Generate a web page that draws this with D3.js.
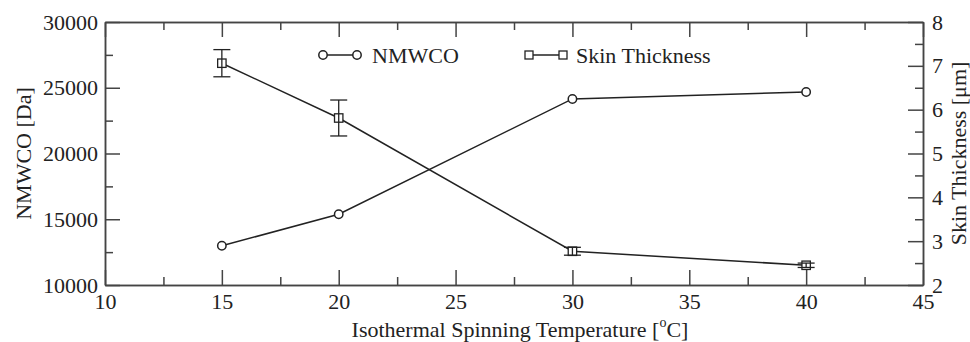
<!DOCTYPE html>
<html><head><meta charset="utf-8">
<script src="https://cdn.jsdelivr.net/npm/d3@7"></script>
<style>
body{margin:0;background:#fff;}
</style></head>
<body><svg id="c" width="970" height="342" style="font-family:'Liberation Serif','Times New Roman',Tinos,'DejaVu Serif',serif"></svg>
<script>
const temps = [15, 20, 30, 40];
const nmwco = [12980, 15380, 24150, 24680];
const skin = [7.06, 5.81, 2.77, 2.45];
const skinErr = [0.31, 0.41, 0.09, 0.05];
const xTicks = [10, 15, 20, 25, 30, 35, 40, 45];
const yLeftTicks = [10000, 15000, 20000, 25000, 30000];
const yRightTicks = [2, 3, 4, 5, 6, 7, 8];
const legendLabels = ["NMWCO", "Skin Thickness"];
const xTitle = "Isothermal Spinning Temperature [";
const yLeftTitle = "NMWCO [Da]";
const yRightTitle = "Skin Thickness [μm]";

const FONT = "'Liberation Serif','Times New Roman',Tinos,'DejaVu Serif',serif";
const L = 105, R = 923, T = 22, B = 285;
const svg = d3.select("#c");
const x = d3.scaleLinear().domain([10, 45]).range([L, R]);
const yl = d3.scaleLinear().domain([10000, 30000]).range([B, T]);
const yr = d3.scaleLinear().domain([2, 8]).range([B, T]);
const axisCol = "#444", lineCol = "#222";
const fs = 22;

function txt(sel){ return sel.style("font-family", FONT).style("font-size", fs + "px").style("fill", "#222"); }
function style(g){
  g.attr("font-family", null).attr("font-size", null);
  g.selectAll("path,line").attr("stroke", axisCol).attr("stroke-width", 1.5);
  txt(g.selectAll("text"));
}
const minorX = d3.range(12.5, 45, 5);
const minorL = d3.range(12500, 30000, 5000);
const minorR = d3.range(2.5, 8, 1);

// bottom
svg.append("g").attr("transform", `translate(0,${B})`)
  .call(d3.axisBottom(x).tickValues(xTicks).tickSize(-15).tickSizeOuter(0).tickPadding(8).tickFormat(d3.format("d"))).call(style);
svg.append("g").attr("transform", `translate(0,${B})`)
  .call(d3.axisBottom(x).tickValues(minorX).tickSize(-8).tickSizeOuter(0).tickFormat("")).call(style);
// top
svg.append("g").attr("transform", `translate(0,${T})`)
  .call(d3.axisTop(x).tickValues(xTicks).tickSize(-15).tickSizeOuter(0).tickFormat("")).call(style);
svg.append("g").attr("transform", `translate(0,${T})`)
  .call(d3.axisTop(x).tickValues(minorX).tickSize(-8).tickSizeOuter(0).tickFormat("")).call(style);
// left
svg.append("g").attr("transform", `translate(${L},0)`)
  .call(d3.axisLeft(yl).tickValues(yLeftTicks).tickSize(-15).tickSizeOuter(0).tickPadding(7).tickFormat(d3.format("d"))).call(style);
svg.append("g").attr("transform", `translate(${L},0)`)
  .call(d3.axisLeft(yl).tickValues(minorL).tickSize(-8).tickSizeOuter(0).tickFormat("")).call(style);
// right
svg.append("g").attr("transform", `translate(${R},0)`)
  .call(d3.axisRight(yr).tickValues(yRightTicks).tickSize(-15).tickSizeOuter(0).tickPadding(9).tickFormat(d3.format("d"))).call(style);
svg.append("g").attr("transform", `translate(${R},0)`)
  .call(d3.axisRight(yr).tickValues(minorR).tickSize(-8).tickSizeOuter(0).tickFormat("")).call(style);

// axis titles
const xt = txt(svg.append("text").attr("x", (L + R) / 2 + 6).attr("y", 337).attr("text-anchor", "middle"));
xt.append("tspan").text(xTitle);
xt.append("tspan").style("font-size", "14px").attr("dy", -10).text("o");
xt.append("tspan").attr("dy", 10).text("C]");
txt(svg.append("text").attr("transform", `translate(31,${(T + B) / 2}) rotate(-90)`).attr("text-anchor", "middle")).text(yLeftTitle);
txt(svg.append("text").attr("transform", `translate(966,${(T + B) / 2}) rotate(-90)`).attr("text-anchor", "middle")).text(yRightTitle);

// NMWCO line
const lineL = d3.line().x((d, i) => x(temps[i])).y(d => yl(d));
svg.append("path").datum(nmwco).attr("d", lineL).attr("fill", "none").attr("stroke", lineCol).attr("stroke-width", 1.5);
svg.selectAll(".circ").data(nmwco).join("circle").attr("cx", (d, i) => x(temps[i])).attr("cy", d => yl(d))
  .attr("r", 4.2).attr("fill", "#fff").attr("stroke", lineCol).attr("stroke-width", 1.5);

// Skin line
const lineR = d3.line().x((d, i) => x(temps[i])).y(d => yr(d));
svg.append("path").datum(skin).attr("d", lineR).attr("fill", "none").attr("stroke", lineCol).attr("stroke-width", 1.5);
svg.selectAll(".sq").data(skin).join("rect").attr("x", (d, i) => x(temps[i]) - 4.2).attr("y", d => yr(d) - 4.2)
  .attr("width", 8.4).attr("height", 8.4).attr("fill", "#fff").attr("stroke", lineCol).attr("stroke-width", 1.3);
// error bars
const eb = svg.append("g").attr("stroke", lineCol).attr("stroke-width", 1.3);
skin.forEach((v, i) => {
  const cx = x(temps[i]);
  eb.append("line").attr("x1", cx).attr("x2", cx).attr("y1", yr(v + skinErr[i])).attr("y2", yr(v - skinErr[i]));
  [v + skinErr[i], v - skinErr[i]].forEach(e => {
    eb.append("line").attr("x1", cx - 8.5).attr("x2", cx + 8.5).attr("y1", yr(e)).attr("y2", yr(e));
  });
});

// legend
const lg = svg.append("g");
const ly = 55;
lg.append("line").attr("x1", 323).attr("x2", 357).attr("y1", ly).attr("y2", ly).attr("stroke", lineCol).attr("stroke-width", 1.5);
[323, 357].forEach(cx => lg.append("circle").attr("cx", cx).attr("cy", ly).attr("r", 4.2).attr("fill", "#fff").attr("stroke", lineCol).attr("stroke-width", 1.5));
txt(lg.append("text").attr("x", 372).attr("y", 63)).text(legendLabels[0]);
lg.append("line").attr("x1", 529).attr("x2", 563).attr("y1", ly).attr("y2", ly).attr("stroke", lineCol).attr("stroke-width", 1.5);
[529, 563].forEach(cx => lg.append("rect").attr("x", cx - 4).attr("y", ly - 4).attr("width", 8).attr("height", 8).attr("fill", "#fff").attr("stroke", lineCol).attr("stroke-width", 1.3));
txt(lg.append("text").attr("x", 576).attr("y", 63)).text(legendLabels[1]);
</script></body></html>
